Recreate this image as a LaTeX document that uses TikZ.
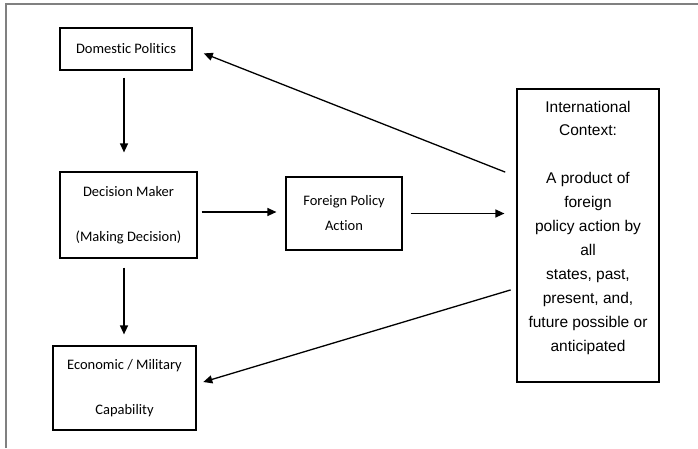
\documentclass[tikz,border=0pt]{standalone}
\usepackage{fontspec}
\setmainfont{Carlito}[Ligatures=NoCommon]
\newfontfamily\arialfont{Liberation Sans}
\usepackage{tikz}
\usetikzlibrary{arrows.meta}

\begin{document}
\begin{tikzpicture}[x=1pt, y=-1pt,
		box/.style={draw, line width=1.2pt, inner sep=0pt, align=center},
		arr/.style={-{Triangle[length=9pt,width=8pt]}, line width=1.3pt}]
			\useasboundingbox (0,0) rectangle (698,448);
			\draw[gray, line width=1.5pt] (6,448) -- (6,4) -- (698,4);
			% boxes
			\node[box, minimum width=132pt, minimum height=42pt, font=\fontsize{14.5}{18}\selectfont] (dom) at (126,49) {Domestic Politics};
			\node[box, minimum width=137pt, minimum height=86pt, font=\fontsize{14.5}{45}\selectfont] (dm) at (128.5,215) {Decision Maker\\(Making Decision)};
			\node[box, minimum width=116pt, minimum height=73pt, font=\fontsize{14.5}{25}\selectfont] (fpa) at (344,213.5) {Foreign Policy\\Action};
			\node[box, minimum width=143pt, minimum height=84pt, font=\fontsize{14.5}{45}\selectfont] (eco) at (124.5,388) {Economic / Military\\Capability};
			\node[box, minimum width=142pt, minimum height=293pt] (ic) at (588,235.5) {};
			\node[align=center, inner sep=0pt, font=\arialfont\fontsize{15.5}{23.9}\selectfont] (ictext) at ([yshift=8pt]ic.center) {International\\Context:\\[23.9pt]A product of\\foreign\\policy action by\\all\\states, past,\\present, and,\\future possible or\\anticipated};
			% connectors
			\draw[arr, shorten <=7pt, shorten >=19pt] ([xshift=-2pt]dom.south) -- ([xshift=-2pt]dom.south |- dm.north);
			\draw[arr, shorten <=9pt, shorten >=11pt] ([xshift=-4.5pt]dm.south) -- ([xshift=-4.5pt]dm.south |- eco.north);
			\draw[arr, shorten <=4pt, shorten >=9pt] ([yshift=3pt]dm.east) -- ([yshift=3pt]dm.east -| fpa.west);
			\draw[arr, shorten <=8pt, shorten >=12pt] (fpa.east) -- (fpa.east -| ic.west);
			\draw[arr, shorten <=12pt, shorten >=12pt] ([yshift=59pt]ic.west) -- (dom.east);
			\draw[arr, shorten <=6pt, shorten >=7pt] ([yshift=-52.7pt]ic.west) -- ([yshift=4pt]eco.east);
	\end{tikzpicture}
\end{document}
